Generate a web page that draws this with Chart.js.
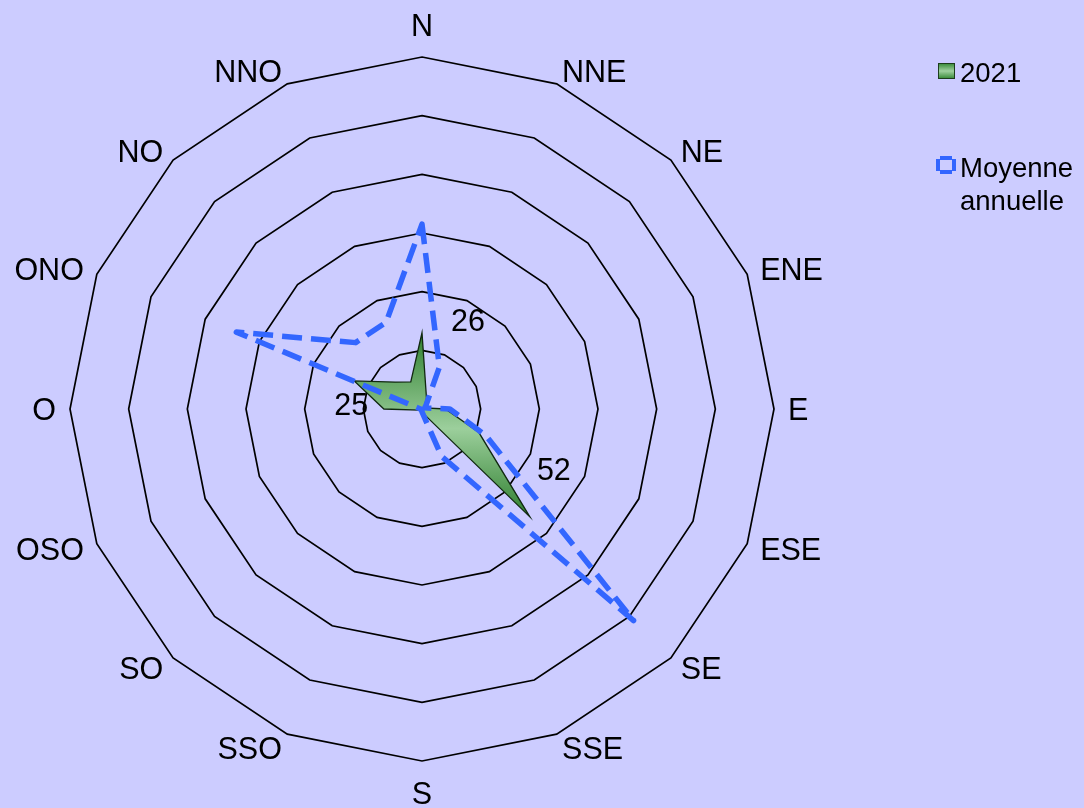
<!DOCTYPE html>
<html>
<head>
<meta charset="utf-8">
<script src="https://cdn.jsdelivr.net/npm/chart.js@4/dist/chart.umd.min.js"></script>
<style>
  html, body { margin: 0; padding: 0; background: #CCCCFF; }
  #wrap { position: relative; width: 1084px; height: 808px; background: #CCCCFF; overflow: hidden; }
  #c { position: absolute; left: 0; top: 0; }
  .lg { position: absolute; font-family: "Liberation Sans", Arial, sans-serif; font-size: 27.5px; color: #000; white-space: nowrap; }
  .ico-green { position: absolute; left: 938px; top: 63px; width: 15px; height: 14px; border: 1px solid #1d3d1d;
    background: linear-gradient(#3f8f3f, #9fd09f 50%, #3f8f3f); }
  #icoBlue { position: absolute; left: 934px; top: 154px; }
</style>
</head>
<body>
<div id="wrap">
  <canvas id="c" width="1084" height="808"></canvas>
  <div class="ico-green"></div>
  <div class="lg" style="left:960px; top:59px; line-height:27px;">2021</div>
  <canvas id="icoBlue" width="24" height="24"></canvas>
  <div class="lg" style="left:960px; top:152px; line-height:32.5px;">Moyenne<br>annuelle</div>
</div>
<script>
// ---- data ----
const directions = ['N','NNE','NE','ENE','E','ESE','SE','SSE','S','SSO','SO','OSO','O','ONO','NO','NNO'];
const values2021 = [26, 4, 1, 1, 8, 21, 52, 2, 1, 1, 1, 1, 13, 25, 13, 10];
const valuesMoyenne = [63, 15.5, 2, 1, 9.5, 23.5, 102, 17.5, 1, 0.5, 0.5, 0.5, 0.5, 68.5, 32, 32];
const labelledIndices2021 = [0, 13, 6];
const scaleMin = 0, scaleMax = 120, scaleStep = 20;

// ---- styles ----
const FONT = '"Liberation Sans", Arial, sans-serif';
const GREEN_DARK = '#2f7f2f';
const GREEN_LIGHT = '#9ccf9c';
const BLUE = '#3366FF';

// legend icon for the dashed series
(function () {
  const ic = document.getElementById('icoBlue').getContext('2d');
  ic.strokeStyle = BLUE;
  ic.lineWidth = 4;
  ic.setLineDash([12, 3]);
  ic.lineDashOffset = -2;
  ic.beginPath();
  ic.rect(4, 4, 16, 14);
  ic.stroke();
})();

function greenGradient(c) {
  const chart = c.chart;
  const s = chart.scales && chart.scales.r;
  if (!s || !chart.chartArea || !s.drawingArea) return GREEN_LIGHT;
  const ys = values2021.map((v, i) => s.getPointPositionForValue(i, v).y);
  const y0 = Math.min(...ys), y1 = Math.max(...ys);
  const g = chart.ctx.createLinearGradient(0, y0, 0, y1);
  g.addColorStop(0, GREEN_DARK);
  g.addColorStop(0.52, GREEN_LIGHT);
  g.addColorStop(1, GREEN_DARK);
  return g;
}

// point labels drawn around the polygon using the scale's own geometry
const pointLabelPlugin = {
  id: 'pointLabelPlugin',
  afterDatasetsDraw(chart) {
    const s = chart.scales.r, ctx = chart.ctx, n = directions.length;
    ctx.save();
    ctx.font = '30.5px ' + FONT;
    ctx.fillStyle = '#000';
    ctx.textBaseline = 'middle';
    directions.forEach((lab, i) => {
      const ang = i * 360 / n;
      const p = s.getPointPosition(i, s.drawingArea + 14);
      let y = p.y + 3, align;
      if (ang === 0) { align = 'center'; y = p.y - 15; }
      else if (ang === 180) { align = 'center'; y = p.y + 21; }
      else if (ang < 180) align = 'left';
      else align = 'right';
      ctx.textAlign = align;
      ctx.fillText(lab, p.x, y);
    });
    ctx.restore();
  }
};

// data labels for some 2021 points
const labelOffsets = { 0: [46, -10], 13: [-3, 26], 6: [24, -45] };
const dataLabelPlugin = {
  id: 'dataLabelPlugin',
  afterDatasetsDraw(chart) {
    const s = chart.scales.r, ctx = chart.ctx;
    ctx.save();
    ctx.font = '30.5px ' + FONT;
    ctx.fillStyle = '#000';
    ctx.textAlign = 'center';
    ctx.textBaseline = 'middle';
    labelledIndices2021.forEach(i => {
      const p = s.getPointPositionForValue(i, values2021[i]);
      const o = labelOffsets[i];
      ctx.fillText(String(values2021[i]), p.x + o[0], p.y + o[1]);
    });
    ctx.restore();
  }
};

new Chart(document.getElementById('c'), {
  type: 'radar',
  data: {
    labels: directions,
    datasets: [
      {
        label: '2021',
        data: values2021,
        order: 2,
        fill: true,
        backgroundColor: greenGradient,
        borderColor: '#102810',
        borderWidth: 1.3,
        pointRadius: 0,
        pointHoverRadius: 0,
        tension: 0
      },
      {
        label: 'Moyenne annuelle',
        data: valuesMoyenne,
        order: 1,
        fill: false,
        backgroundColor: 'rgba(0,0,0,0)',
        borderColor: BLUE,
        borderWidth: 5.5,
        borderDash: [20, 9],
        borderJoinStyle: 'round',
        pointRadius: 0,
        pointHoverRadius: 0,
        tension: 0
      }
    ]
  },
  options: {
    responsive: false,
    animation: false,
    devicePixelRatio: 1,
    layout: { padding: { left: 70, right: 310, top: 57, bottom: 47 } },
    plugins: {
      legend: { display: false },
      tooltip: { enabled: false }
    },
    scales: {
      r: {
        min: scaleMin,
        max: scaleMax,
        ticks: { display: false, stepSize: scaleStep },
        grid: { circular: false, color: '#000', lineWidth: 1.7 },
        angleLines: { display: false },
        pointLabels: { display: false }
      }
    }
  },
  plugins: [pointLabelPlugin, dataLabelPlugin]
});
</script>
</body>
</html>
